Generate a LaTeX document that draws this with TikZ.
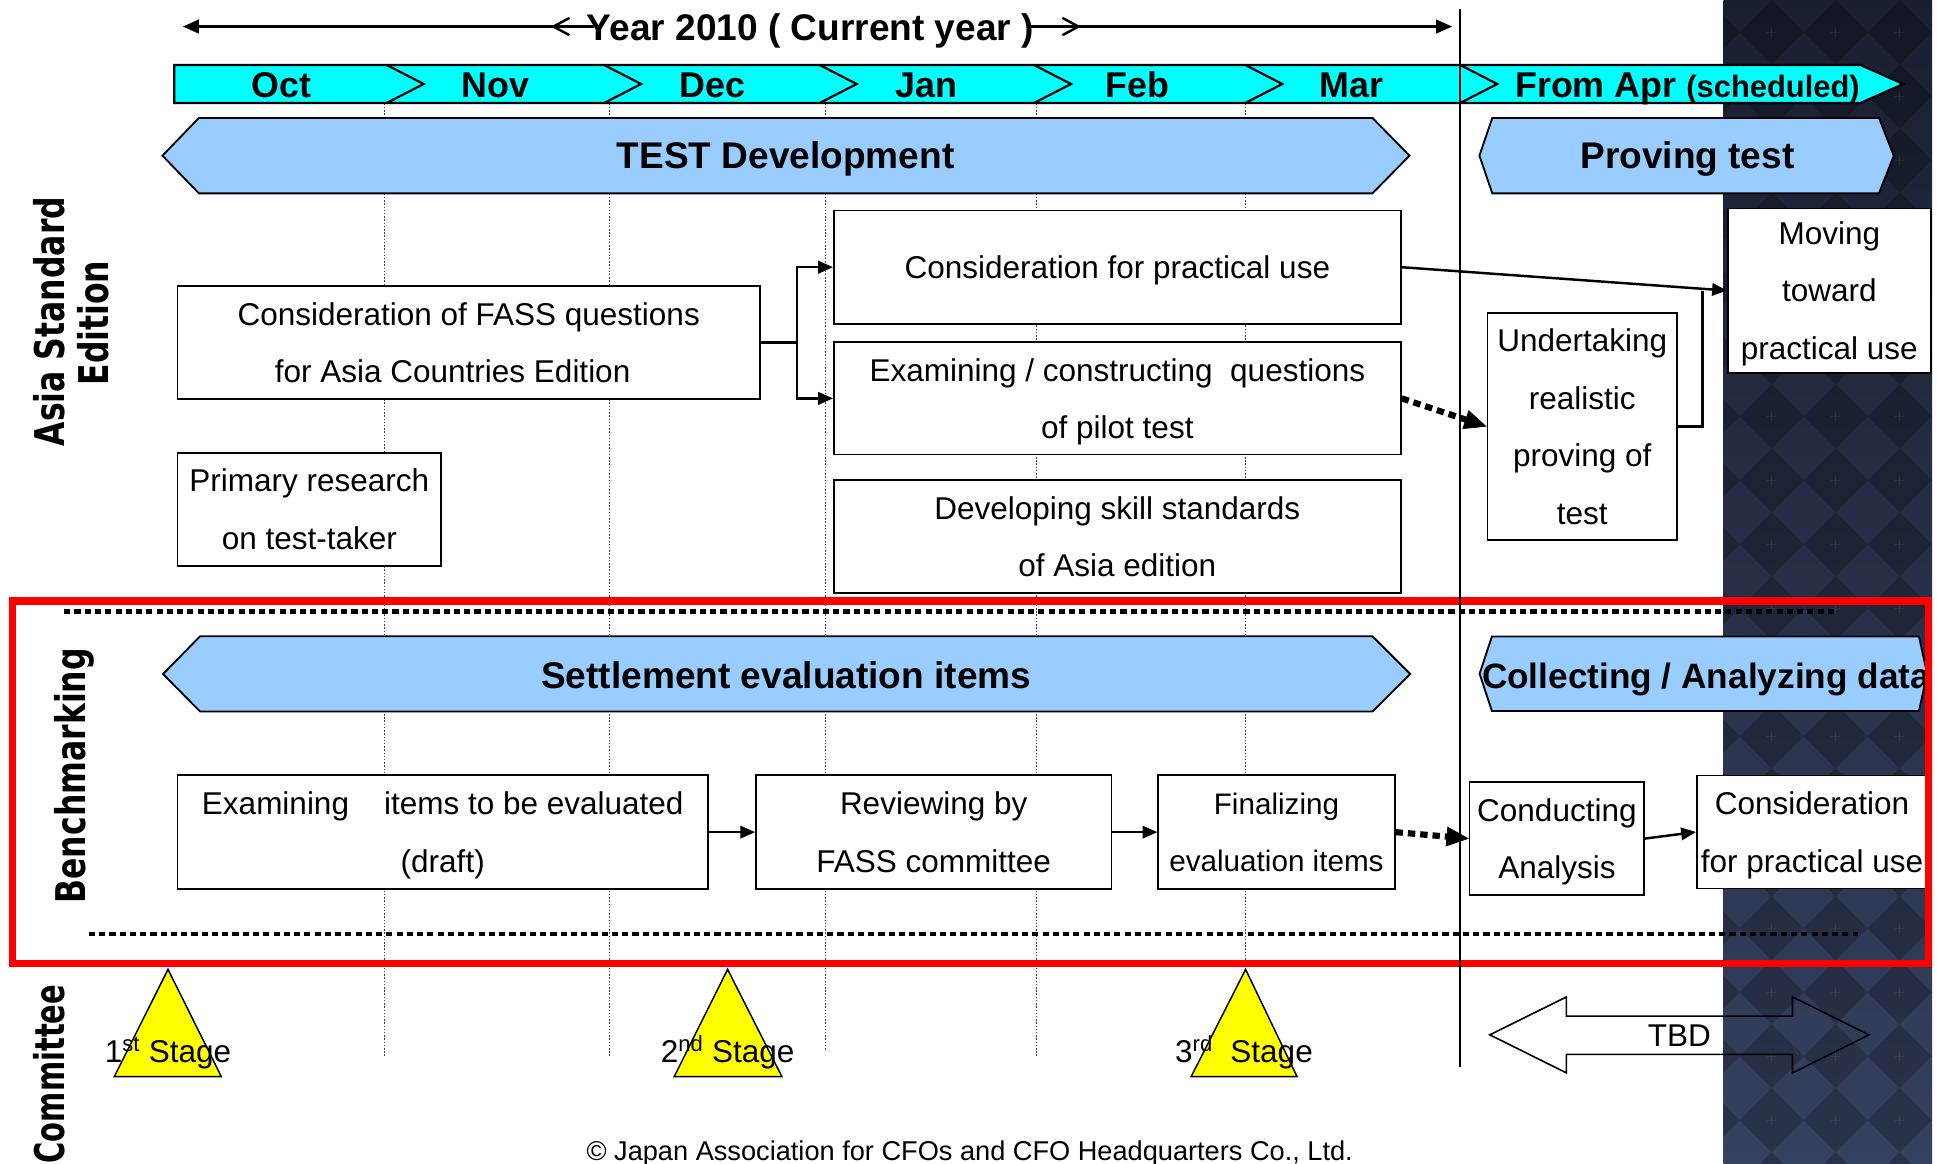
\documentclass[tikz,border=0pt]{standalone}
\usepackage{fontspec}
\usepackage{graphicx}
\setmainfont{Liberation Sans}
\newfontfamily\lanefont{DejaVu Sans}
\usetikzlibrary{arrows.meta,calc}

\definecolor{monthcyan}{HTML}{00FFFF}
\definecolor{bandblue}{HTML}{99CCFF}
\definecolor{stageyellow}{HTML}{FFFF00}
\definecolor{framered}{HTML}{FF0000}
\definecolor{paneltop}{HTML}{1A1F30}
\definecolor{panelbot}{HTML}{34415F}

% balance ascender/descender space so box text is centred on its capitals
\newcommand\bt[1]{\rule{0pt}{0.93em}#1\rule[-0.21em]{0pt}{0pt}}

\tikzset{
  box/.style={draw=black, line width=1.3pt, fill=white, align=center, inner sep=0pt,
    font=\fontsize{25.5}{46.5}\selectfont},
  band/.style={draw=black, line width=1.5pt, fill=bandblue},
  bandtext/.style={anchor=base, inner sep=0pt, font=\fontsize{30}{36}\selectfont\bfseries},
  month/.style={anchor=base, inner sep=0pt, font=\fontsize{29}{34}\selectfont\bfseries},
  conn/.style={line width=2pt, -{Triangle[length=12pt,width=10pt]}},
  dotconn/.style={line width=5pt, dash pattern=on 6pt off 4pt,
    -{Triangle[length=18pt,width=16pt,line width=0.5pt]}},
  sepline/.style={line width=3.8pt, dash pattern=on 5pt off 3.3pt},
  gridline/.style={black!75, line width=0.7pt, dash pattern=on 1.2pt off 1.4pt},
  lane/.style={rotate=90, inner sep=0pt, text depth=0pt,
    font=\fontsize{25.5}{30}\selectfont\lanefont\bfseries},
  stagetri/.style={draw=black, line width=1.2pt, fill=stageyellow},
  stagelabel/.style={anchor=base, inner sep=0pt, font=\fontsize{25.5}{30}\selectfont},
}

\begin{document}
\begin{tikzpicture}[x=1pt,y=-1pt]
\useasboundingbox (0,0) rectangle (1568,941.45);
\clip (0,0) rectangle (1568,941.45);
\fill[white] (0,0) rectangle (1568,941.45);

% dark argyle side panel
\begin{scope}
  \clip (1395,0) rectangle (1564,941.45);
  \shade[top color=paneltop, bottom color=panelbot] (1395,0) rectangle (1564,941.45);
  \foreach \i in {-1,0,1,2,3} {
    \foreach \j in {-7,...,12} {
      \fill[black, opacity=0.22] ({1434.2+\i*51.8-25.9},{337+\j*51.8})
        -- ++(25.9,-25.9) -- ++(25.9,25.9) -- ++(-25.9,25.9) -- cycle;
      \draw[white, opacity=0.08, line width=0.7pt]
        ({1434.2+\i*51.8-3.5},{337+\j*51.8}) -- ++(7,0)
        ({1434.2+\i*51.8},{337+\j*51.8-3.5}) -- ++(0,7);
    }
  }
\end{scope}

% month grid
\foreach \gx/\gy in {311/855, 493/855, 668/851, 839/855, 1008/785}
  \draw[gridline] (\gx,84) -- (\gx,\gy);

% year arrow
\coordinate (yl) at (148,21.5);
\coordinate (yr) at (1175.5,21.5);
\coordinate (ylin) at (481,21.5);
\coordinate (yrin) at (834,21.5);
\coordinate (ychl) at (448,21.5);
\coordinate (ychr) at (873,21.5);
\draw[line width=2pt, {Triangle[length=13pt,width=11pt]}-] (yl) -- (ylin);
\draw[line width=2pt, -{Triangle[length=13pt,width=11pt]}] (yrin) -- (yr);
\draw[line width=2pt] ($(ychl)+(13,-7)$) -- (ychl) -- ($(ychl)+(13,7)$);
\draw[line width=2pt] ($(ychr)+(-13,-7)$) -- (ychr) -- ($(ychr)+(-13,7)$);
\node[anchor=base, inner sep=0pt, font=\fontsize{30}{36}\selectfont\bfseries]
  (year) at (656,33) {Year 2010 ( Current year )};

% month bar
\draw[line width=1.8pt, fill=monthcyan]
  (141,52.6) -- (1506,52.6) -- (1540.6,68) -- (1506,83.4) -- (141,83.4) -- cycle;
\foreach \d in {313,489,663.5,837,1008,1182}
  \draw[line width=1.8pt] (\d,52.6) -- ({\d+30},68) -- (\d,83.4);
\node[month] (oct) at (228,79) {Oct};
\node[month] (nov) at (401,79) {Nov};
\node[month] (dec) at (577,79) {Dec};
\node[month] (jan) at (750,79) {Jan};
\node[month] (feb) at (921,79) {Feb};
\node[month] (mar) at (1094,79) {Mar};
\node[month] (apr) at (1366,79) {From Apr {\fontsize{25}{30}\selectfont(scheduled)}};

% phase bands
\draw[band] (131.5,126) -- (161,95.5) -- (1111,95.5) -- (1141,126) -- (1111,156.5) -- (161,156.5) -- cycle;
\draw[band] (1197.6,126) -- (1208,95.5) -- (1521,95.5) -- (1533,126) -- (1521,156.5) -- (1208,156.5) -- cycle;
\draw[band] (132,545.6) -- (162,515) -- (1111,515) -- (1141.6,545.6) -- (1111,576) -- (162,576) -- cycle;
\draw[band] (1197.7,545.4) -- (1207.7,515.3) -- (1553.4,515.3) -- (1560,545.4) -- (1553.4,575.5) -- (1207.7,575.5) -- cycle;
\node[bandtext] (testdev) at (636,136.5) {TEST Development};
\node[bandtext] (proving) at (1366,136.5) {Proving test};
\node[bandtext] (settle) at (636.5,557) {Settlement evaluation items};
\node[bandtext, font=\fontsize{28.5}{34}\selectfont\bfseries] (collect) at (1381,557) {Collecting / Analyzing data};

% Asia Standard Edition tasks
\node[box, minimum width=471.3pt, minimum height=91.5pt] (fass) at (379.4,277.3)
  {\bt{Consideration of FASS questions\\for Asia Countries Edition\hspace{26pt}}};
\node[box, minimum width=213.3pt, minimum height=91.5pt] (primary) at (250.4,412.3)
  {\bt{Primary research\\on test-taker}};
\node[box, minimum width=459pt, minimum height=91.5pt] (cpu) at (904.5,216.3)
  {\bt{Consideration for practical use}};
\node[box, minimum width=459pt, minimum height=91pt] (pilot) at (904.5,322.5)
  {\bt{Examining / constructing~~questions\\of pilot test}};
\node[box, minimum width=459pt, minimum height=91.2pt] (skill) at (904.5,434.2)
  {\bt{Developing skill standards\\of Asia edition}};
\node[box, minimum width=164.4pt, minimum height=133.1pt] (moving) at (1480.8,235.2)
  {\bt{Moving\\toward\\practical use}};
\node[box, minimum width=153.5pt, minimum height=183.4pt] (undert) at (1280.8,345.3)
  {\bt{Undertaking\\realistic\\proving of\\test}};

% Benchmarking tasks
\node[box, minimum width=429.3pt, minimum height=92.3pt] (exam) at (358.4,673.6)
  {\bt{Examining~~~~items to be evaluated\\(draft)}};
\node[box, minimum width=287.6pt, minimum height=92.3pt] (review) at (755.8,673.6)
  {\bt{Reviewing by\\FASS committee}};
\node[box, minimum width=191.5pt, minimum height=92.3pt, font=\fontsize{24}{46.5}\selectfont]
  (final) at (1033.3,673.6) {\bt{Finalizing\\evaluation items}};
\node[box, minimum width=141.4pt, minimum height=91.6pt] (cond) at (1260.3,678.8)
  {\bt{Conducting\\Analysis}};
\node[box, minimum width=186.5pt, minimum height=91.7pt] (cons2) at (1466.8,673.5)
  {\bt{Consideration\\for practical use}};

% connectors
\coordinate (split) at (645,277.3);
\coordinate (merge) at (1378,235.2);
\draw[line width=2pt] (fass.east) -- (split);
\draw[conn] (split) |- (cpu.west);
\draw[conn] (split) |- (pilot.west);
\draw[conn] (cpu.east) -- (moving.west);
\draw[line width=2pt] (undert.east) -| (merge);
\draw[dotconn] (pilot.east) -- (undert.west);
\draw[conn] (exam.east) -- (review.west);
\draw[conn] (review.east) -- (final.west);
\draw[dotconn] (final.east) -- (cond.west);
\draw[conn] (cond.east) -- (cons2.west);

% benchmarking frame
\draw[framered, line width=6pt] (10,486.5) rectangle (1561,780);
\draw[sepline] (52,495) -- (1485,495);
\draw[sepline] (72,756) -- (1504,756);

% current-time divider
\draw[line width=2pt] (1182,7) -- (1182,864);

% committee stages
\draw[stagetri] (136,784.7) -- (179.2,871.6) -- (92.5,871.6) -- cycle;
\draw[stagetri] (589,784.7) -- (633,871.6) -- (545.7,871.6) -- cycle;
\draw[stagetri] (1008.3,784.7) -- (1050,871.6) -- (964.2,871.6) -- cycle;
\node[stagelabel] (st1) at (136,860) {1\textsuperscript{st} Stage};
\node[stagelabel] (st2) at (589,860) {2\textsuperscript{nd} Stage};
\node[stagelabel] (st3) at (1007,860) {3\textsuperscript{rd}\ \ Stage};

% TBD double arrow
\draw[line width=1.3pt] (1206,837.7) -- (1268,807) -- (1268,822.5) -- (1451,822.5)
  -- (1451,807) -- (1513,837.7) -- (1451,868.5) -- (1451,853.5) -- (1268,853.5)
  -- (1268,868.5) -- cycle;
\node[anchor=base, inner sep=0pt, font=\fontsize{25.5}{30}\selectfont] (tbd) at (1359.5,847) {TBD};

% lane labels
\node[lane] (asia) at (39.5,260.3) {\scalebox{1}[1.3]{Asia Standard}};
\node[lane] (edition) at (75,261.5) {\scalebox{1}[1.3]{Edition}};
\node[lane] (bench) at (57,628) {\scalebox{1}[1.3]{Benchmarking}};
\node[lane, anchor=east] (committee) at (39.7,797) {\scalebox{0.92}[1.3]{Committee}};

% footer
\node[anchor=base, inner sep=0pt, font=\fontsize{22}{26}\selectfont] (copyright) at (785,939.6)
  {© Japan Association for CFOs and CFO Headquarters Co., Ltd.};
\end{tikzpicture}
\end{document}
